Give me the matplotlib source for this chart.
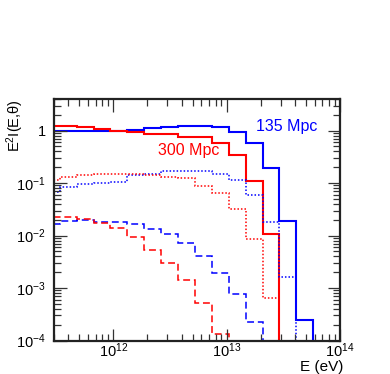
import numpy as np
import matplotlib
matplotlib.use("Agg")
import matplotlib.pyplot as plt
from matplotlib.ticker import FixedLocator, FuncFormatter, LogLocator, NullFormatter

plt.rcParams['font.family'] = ['Liberation Sans', 'DejaVu Sans']
plt.rcParams['mathtext.fontset'] = 'custom'
plt.rcParams['mathtext.rm'] = 'Liberation Sans'
plt.rcParams['mathtext.it'] = 'Liberation Sans:italic'
plt.rcParams['mathtext.default'] = 'rm'

# log10(E/eV) bin edges (uniform log bins)
log_edges = [11.3795, 11.5285, 11.6775, 11.8265, 11.9755, 12.1245, 12.2735, 12.4225,
             12.5715, 12.7205, 12.8695, 13.0185, 13.1675, 13.3165, 13.4655, 13.6145,
             13.7635, 13.9125]

# 135 Mpc (blue)
blue_total = [0.98, 0.98, 0.98, 0.98, 0.98, 1.02, 1.10, 1.18, 1.21, 1.20, 1.15, 0.95,
              0.57, 0.19, 0.019, 2.45e-4, 0]
blue_dotted = [0.068, 0.085, 0.097, 0.10, 0.104, 0.142, 0.146, 0.168, 0.169, 0.169,
               0.147, 0.114, 0.060, 0.018, 0.00164, 0, 0]
blue_dashed = [0.0163, 0.019, 0.0195, 0.018, 0.018, 0.0163, 0.0131, 0.0105, 0.0071,
               0.00416, 0.0019, 7.6e-4, 2.28e-4, 0, 0, 0, 0]

# 300 Mpc (red)
red_total = [1.22, 1.22, 1.15, 1.08, 0.99, 0.92, 0.85, 0.85, 0.76, 0.76, 0.59, 0.35,
             0.109, 0.0105, 0, 0, 0]
red_dotted = [0.115, 0.128, 0.144, 0.150, 0.150, 0.150, 0.145, 0.132, 0.125, 0.088,
              0.064, 0.032, 0.0085, 6.5e-4, 0, 0, 0]
red_dashed = [0.0228, 0.0225, 0.021, 0.0175, 0.0137, 0.0095, 0.0053, 0.00295, 0.00142,
              5.1e-4, 1.33e-4, 0, 0, 0, 0, 0, 0]

x_ticks = [1e12, 1e13, 1e14]
y_ticks = [1e-4, 1e-3, 1e-2, 1e-1, 1]

edges = 10 ** np.array(log_edges)

def vals(v):
    a = np.array(v, dtype=float)
    a[a <= 0] = 1e-9
    return a

fig = plt.figure(figsize=(3.9, 3.74), dpi=100)
ax = fig.add_axes([54/390, 1 - 340.5/374, (340 - 54)/390, (340.5 - 99)/374])

BLUE = '#0000ff'
RED = '#ff0000'
lw_solid = 1.5
lw_thin = 1.1
dash = (0, (4.5, 2.5))
dot = (0, (1.0, 1.3))

ax.stairs(vals(blue_total), edges, baseline=None, color=BLUE, lw=lw_solid)
ax.stairs(vals(red_total), edges, baseline=None, color=RED, lw=lw_solid)
ax.stairs(vals(blue_dotted), edges, baseline=None, color=BLUE, lw=lw_thin, linestyle=dot)
ax.stairs(vals(red_dotted), edges, baseline=None, color=RED, lw=lw_thin, linestyle=dot)
ax.stairs(vals(blue_dashed), edges, baseline=None, color=BLUE, lw=lw_thin, linestyle=dash)
ax.stairs(vals(red_dashed), edges, baseline=None, color=RED, lw=lw_thin, linestyle=dash)

ax.set_xscale('log')
ax.set_yscale('log')
ax.set_xlim(3e11, 1e14)
ax.set_ylim(1e-4, 4)

def fmt(v, pos):
    e = int(round(np.log10(v)))
    if e == 0:
        return '1'
    return r'$10^{%d}$' % e

ax.xaxis.set_major_locator(FixedLocator(x_ticks))
ax.yaxis.set_major_locator(FixedLocator(y_ticks))
ax.xaxis.set_major_formatter(FuncFormatter(fmt))
ax.yaxis.set_major_formatter(FuncFormatter(fmt))
ax.xaxis.set_minor_locator(LogLocator(base=10, subs=np.arange(2, 10), numticks=20))
ax.yaxis.set_minor_locator(LogLocator(base=10, subs=np.arange(2, 10), numticks=20))
ax.xaxis.set_minor_formatter(NullFormatter())
ax.yaxis.set_minor_formatter(NullFormatter())

ax.tick_params(which='both', direction='in', top=True, right=True, color='#333333',
               labelsize=10.5, width=0.9)
ax.tick_params(which='major', length=9)
ax.tick_params(which='minor', length=5)
ax.tick_params(axis='x', which='major', pad=1.0)
ax.tick_params(axis='y', which='major', pad=6)
for s in ax.spines.values():
    s.set_linewidth(1.6)
    s.set_color('#222222')

ax.text((286.5 - 54)/286, (340.5 - 126.5)/241.5, '135 Mpc', color=BLUE, fontsize=11.5,
        ha='center', va='center', transform=ax.transAxes)
ax.text((189 - 54)/286, (340.5 - 150)/241.5, '300 Mpc', color=RED, fontsize=11.5,
        ha='center', va='center', transform=ax.transAxes)

ax.text((15 - 54)/286, 1.0, r'E$^{2}$I(E,$\theta$)', rotation=90, fontsize=10.5,
        ha='center', va='top', transform=ax.transAxes)
ax.text((343 - 54)/286, (340.5 - 359.5)/241.5, 'E (eV)', fontsize=11,
        ha='right', va='top', transform=ax.transAxes)

fig.savefig('out.png', dpi=100)
